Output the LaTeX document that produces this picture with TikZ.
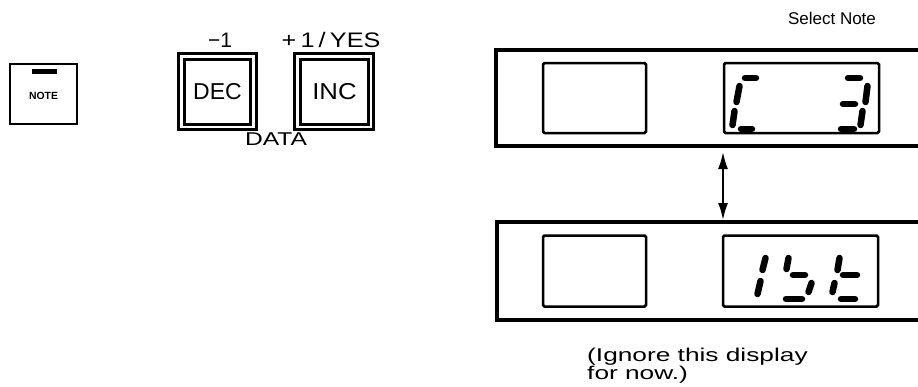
\documentclass[tikz,border=0pt]{standalone}
\usepackage{fontspec}
\setmainfont{Liberation Sans}
\usepackage{graphicx}
\usetikzlibrary{arrows.meta}
\newcommand\wx[2]{\scalebox{#1}[1]{#2}}
\tikzset{
  panelline/.style={line width=3.5pt},
  win/.style={draw, line width=2.5pt, rounded corners=1.5pt, inner sep=0pt},
  btnout/.style={draw, line width=2.5pt, inner sep=0pt},
  btnin/.style={draw, line width=3.5pt, inner sep=0pt, font=\fontsize{23}{23}\selectfont},
  seg/.style={line width=6.5pt, line cap=round},
  lbl/.style={inner sep=0pt, anchor=base},
  dblarrow/.style={line width=2.8pt, {Latex[length=18pt,width=10pt]}-{Latex[length=18pt,width=10pt]}}
}
\begin{document}
\begin{tikzpicture}[x=1pt,y=-1pt]
\useasboundingbox (0,0) rectangle (918,386);

% NOTE button
\node[draw, line width=2.5pt, minimum width=67pt, minimum height=60pt, inner sep=0pt] (note) at (43.5,94) {};
\fill (32,69) rectangle (57,74);
\node[inner sep=0pt, font=\fontsize{10.4}{10.4}\bfseries\selectfont] (notetxt) at (43.5,96) {NOTE};

% DEC / INC buttons
\node[btnout, minimum width=78pt, minimum height=76pt] (decO) at (217.5,91.5) {};
\node[btnin, minimum width=66pt, minimum height=65pt] (dec) at (217.5,92) {DEC};
\node[btnout, minimum width=79pt, minimum height=76pt] (incO) at (334,91.5) {};
\node[btnin, minimum width=68pt, minimum height=65pt] (inc) at (334.5,92) {\wx{1.12}{INC}};

\node[lbl, font=\fontsize{21}{21}\selectfont] (m1) at (220,47) {−1};
\node[lbl, font=\fontsize{21}{21}\selectfont] (p1) at (331,47) {\wx{1.2}{+\,1\,/\,YES}};
\node[lbl, font=\fontsize{18.5}{18.5}\selectfont] (data) at (276,145) {\wx{1.33}{DATA}};

% Select Note
\node[lbl, font=\fontsize{17}{17}\selectfont] (sel) at (832,24) {Select Note};

% upper panel
\draw[panelline] (918,50) -| (496,146) -- (918,146);
\node[win, minimum width=103pt, minimum height=70pt] (w1l) at (594.5,98) {};
\node[win, minimum width=155pt, minimum height=70pt] (w1r) at (801.5,98) {};

% lower panel
\draw[panelline] (918,222) -| (497,320) -- (918,320);
\node[win, minimum width=103pt, minimum height=71pt] (w2l) at (594.5,271) {};
\node[win, minimum width=155pt, minimum height=71pt] (w2r) at (800.5,271) {};

% arrow
\coordinate (a1) at (723,151);
\coordinate (a2) at (723,221);
\draw[dblarrow] (a1) -- (a2);

% C
\draw[seg] (745,78) -- (756,78);
\draw[seg] (739.5,86) -- (736.5,102);
\draw[seg] (734.5,111) -- (732.5,125);
\draw[seg] (741,129) -- (752,129);
% 3
\draw[seg] (848,78) -- (860,78);
\draw[seg] (867.5,86) -- (865.5,102);
\draw[seg] (843,104) -- (855,104);
\draw[seg] (862.5,111) -- (860.5,125);
\draw[seg] (841,129) -- (854,129);

% 1
\draw[seg] (765.5,258) -- (762.5,270);
\draw[seg] (760.5,281) -- (757.5,294);
% s
\draw[seg] (788.5,258) -- (786.5,269);
\draw[seg] (793,275) -- (805,275);
\draw[seg] (811.5,283) -- (808.5,292);
\draw[seg] (786,299) -- (802,299);
% t
\draw[seg] (839.5,258) -- (837.5,270);
\draw[seg] (843,275) -- (857,275);
\draw[seg] (834.5,283) -- (832.5,292);
\draw[seg] (841,299) -- (855,299);

% note text
\node[inner sep=0pt, anchor=north west, align=left, font=\fontsize{18.5}{17}\selectfont] (ign) at (587,348)
  {\wx{1.42}{(Ignore this display}\\\wx{1.42}{for now.)}};
\end{tikzpicture}
\end{document}
